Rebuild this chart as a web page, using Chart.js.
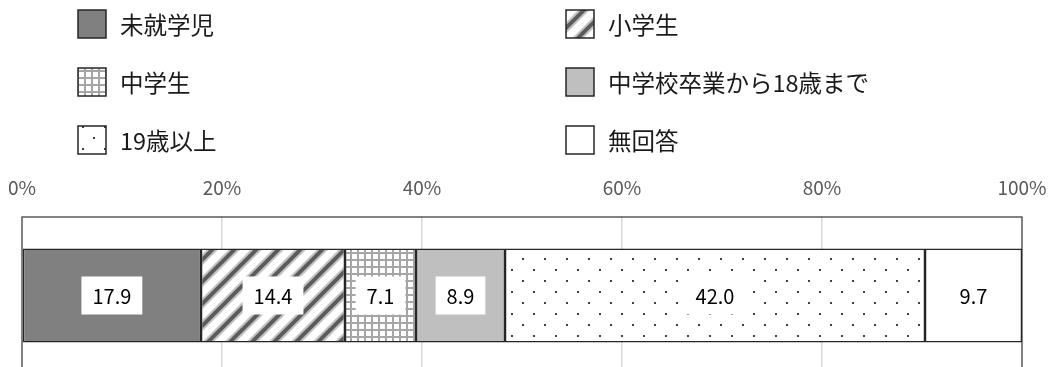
<!DOCTYPE html>
<html>
<head>
<meta charset="utf-8">
<script src="https://cdn.jsdelivr.net/npm/chart.js@4"></script>
<style>
  html, body { margin: 0; padding: 0; background: #fff; overflow: hidden; }
  #wrap { width: 1056px; height: 374px; }
</style>
</head>
<body>
<div id="wrap"><canvas id="chart" width="1056" height="374"></canvas></div>
<script>
const categories = [""];
const seriesNames = ["未就学児", "小学生", "中学生", "中学校卒業から18歳まで", "19歳以上", "無回答"];
const seriesValues = [17.9, 14.4, 7.1, 8.9, 42.0, 9.7];
const tickValues = [0, 20, 40, 60, 80, 100];

const JP_FONT = "'Noto Sans CJK JP', 'Noto Sans', sans-serif";

function makeTile(w, h, paint) {
  const c = document.createElement("canvas");
  c.width = w;
  c.height = h;
  const g = c.getContext("2d");
  g.fillStyle = "#ffffff";
  g.fillRect(0, 0, w, h);
  paint(g);
  return document.getElementById("chart").getContext("2d").createPattern(c, "repeat");
}

// diagonal stripes
const stripes = makeTile(22, 22, (g) => {
  const lines = [[-11, 11, 11, -11], [0, 22, 22, 0], [11, 33, 33, 11]];
  [["#c4c4c4", 8], ["#5c5c5c", 4]].forEach(([col, lw]) => {
    g.strokeStyle = col;
    g.lineWidth = lw;
    lines.forEach(([a, b, c, d]) => {
      g.beginPath();
      g.moveTo(a, b);
      g.lineTo(c, d);
      g.stroke();
    });
  });
});

// small square grid
const grid = makeTile(7, 7, (g) => {
  g.fillStyle = "#a6a6a6";
  g.fillRect(0, 0, 2, 7);
  g.fillRect(0, 0, 7, 2);
});

// staggered dots
const dots = makeTile(22, 22, (g) => {
  g.fillStyle = "#404040";
  g.fillRect(5, 5, 2, 2);
  g.fillRect(16, 16, 2, 2);
});

const fills = ["#808080", stripes, grid, "#bfbfbf", dots, "#ffffff"];

const datasets = seriesNames.map((name, i) => ({
  label: name,
  data: [seriesValues[i]],
  backgroundColor: fills[i],
  borderColor: "#262626",
  borderWidth: 1.5,
  borderSkipped: false,
  barPercentage: 0.6,
  categoryPercentage: 1,
}));

// plot frame: top, left and right edges
const framePlugin = {
  id: "frame",
  beforeDatasetsDraw(chart) {
    const { ctx, chartArea: a } = chart;
    ctx.save();
    ctx.strokeStyle = "#595959";
    ctx.lineWidth = 1.5;
    ctx.beginPath();
    ctx.moveTo(a.left, chart.height);
    ctx.lineTo(a.left, a.top);
    ctx.lineTo(a.right, a.top);
    ctx.lineTo(a.right, chart.height);
    ctx.stroke();
    ctx.restore();
  },
};

// value labels on white boxes
const valueLabels = {
  id: "valueLabels",
  afterDatasetsDraw(chart) {
    const ctx = chart.ctx;
    ctx.save();
    ctx.font = "20px " + JP_FONT;
    ctx.textAlign = "center";
    ctx.textBaseline = "middle";
    chart.data.datasets.forEach((ds, i) => {
      const bar = chart.getDatasetMeta(i).data[0];
      const text = ds.data[0].toFixed(1);
      const cx = (bar.x + bar.base) / 2;
      const cy = bar.y;
      const w = ctx.measureText(text).width + 22;
      const h = 38;
      ctx.fillStyle = "#ffffff";
      ctx.fillRect(cx - w / 2, cy - h / 2, w, h);
      ctx.fillStyle = "#000000";
      ctx.fillText(text, cx, cy + 1);
    });
    ctx.restore();
  },
};

// two-column legend above the axis
const legendGrid = {
  id: "legendGrid",
  afterDraw(chart) {
    const ctx = chart.ctx;
    const colX = [78, 566];
    const rowY = [10, 68, 126];
    const box = 28;
    ctx.save();
    ctx.font = "23.5px " + JP_FONT;
    ctx.textBaseline = "middle";
    chart.data.datasets.forEach((ds, i) => {
      const x = colX[i % 2];
      const y = rowY[Math.floor(i / 2)];
      ctx.fillStyle = ds.backgroundColor;
      ctx.fillRect(x, y, box, box);
      ctx.strokeStyle = "#262626";
      ctx.lineWidth = 1.5;
      ctx.strokeRect(x, y, box, box);
      ctx.fillStyle = "#1a1a1a";
      ctx.fillText(ds.label, x + 42, y + box / 2 + 1);
    });
    ctx.restore();
  },
};

new Chart(document.getElementById("chart"), {
  type: "bar",
  data: { labels: categories, datasets: datasets },
  plugins: [framePlugin, valueLabels, legendGrid],
  options: {
    indexAxis: "y",
    responsive: false,
    animation: false,
    devicePixelRatio: 1,
    layout: { padding: { top: 160, left: 22, right: 34, bottom: 0 } },
    plugins: {
      legend: { display: false },
      tooltip: { enabled: false },
    },
    scales: {
      x: {
        position: "top",
        stacked: true,
        min: 0,
        max: 100,
        afterBuildTicks(scale) {
          scale.ticks = tickValues.map((v) => ({ value: v }));
        },
        afterFit(scale) {
          scale.height = 57;
          scale.paddingLeft = 0;
          scale.paddingRight = 0;
        },
        ticks: {
          padding: 18,
          color: "#595959",
          font: { family: JP_FONT, size: 19 },
          callback: (v) => v + "%",
          maxRotation: 0,
        },
        grid: {
          drawTicks: false,
          lineWidth: 1.5,
          color: (c) => (c.tick && (c.tick.value === 0 || c.tick.value === 100) ? "rgba(0,0,0,0)" : "#d9d9d9"),
        },
        border: { display: false },
      },
      y: {
        stacked: true,
        display: false,
      },
    },
  },
});
</script>
</body>
</html>
